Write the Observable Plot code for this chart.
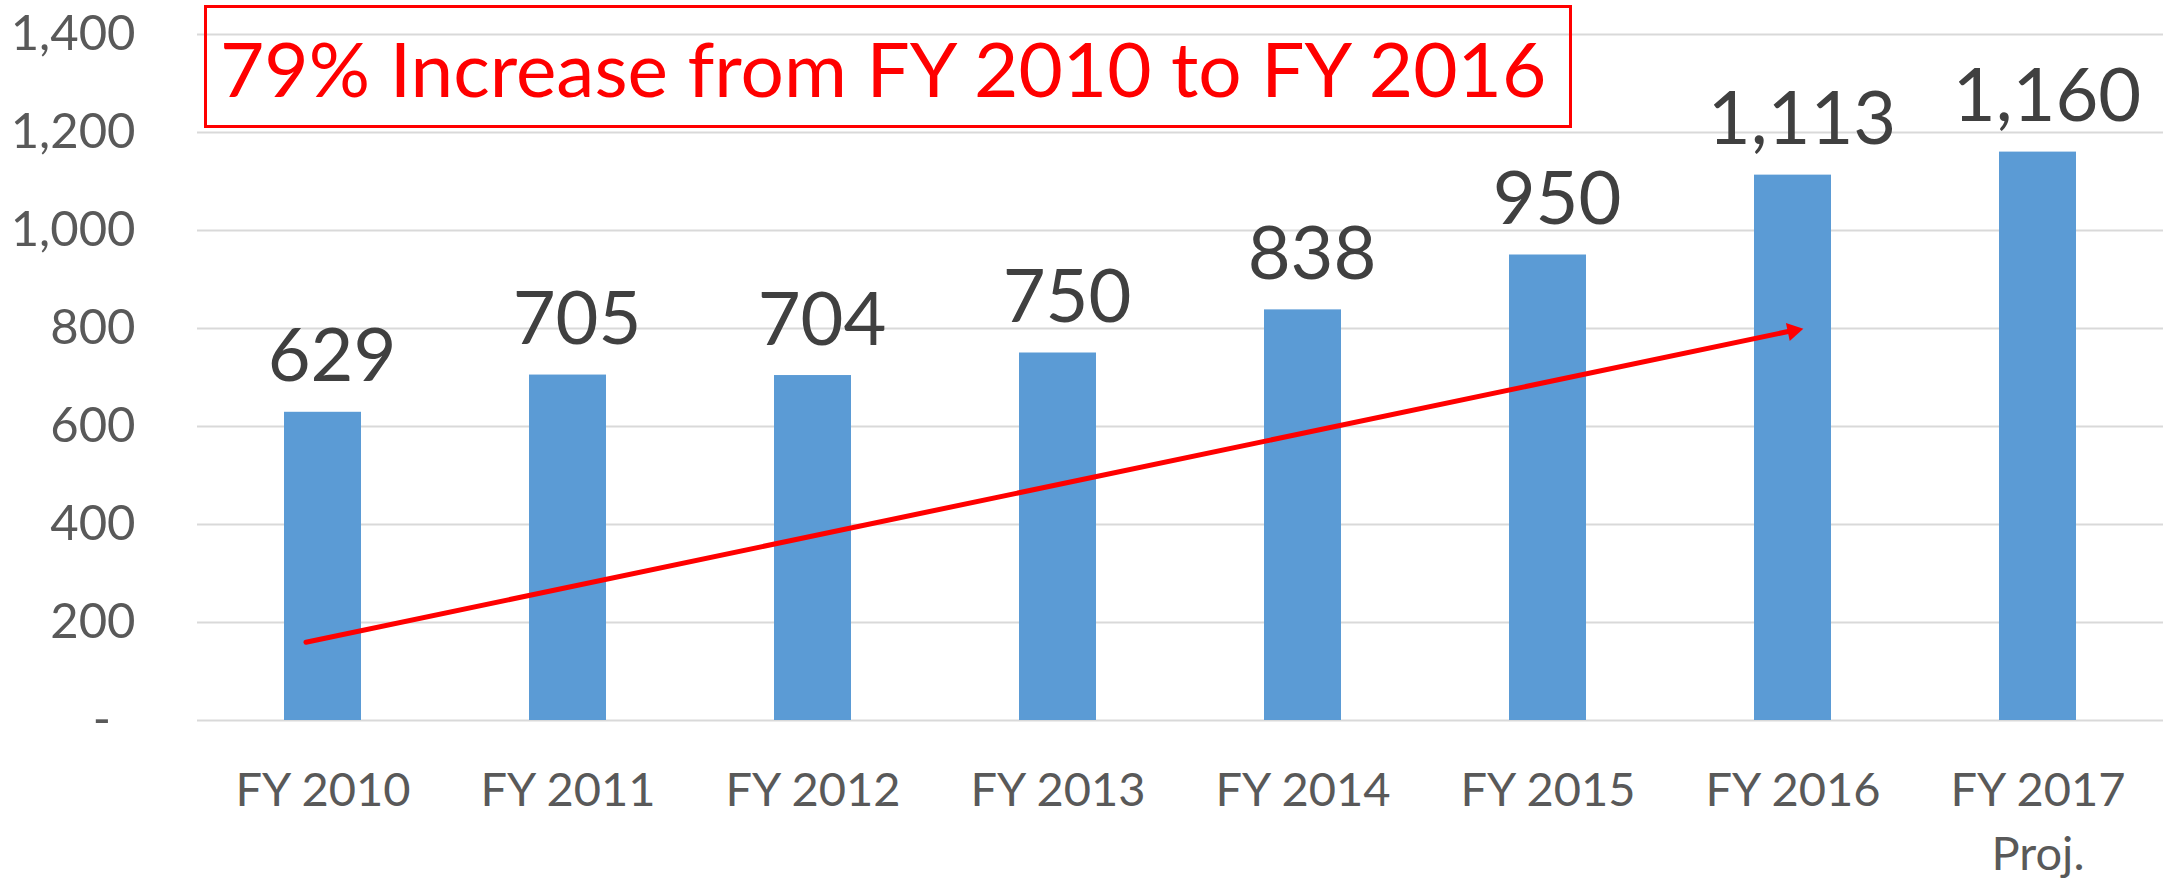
<!DOCTYPE html>
<html><head><meta charset="utf-8">
<script src="https://cdn.jsdelivr.net/npm/d3@7"></script>
<script src="https://cdn.jsdelivr.net/npm/@observablehq/plot@0.6"></script>
<style>
body{margin:0;background:#fff;}
#wrap{position:relative;width:2165px;height:879px;}
#callout{position:absolute;left:204px;top:5px;width:1368px;height:123px;box-sizing:border-box;border:3px solid #ff0000;display:flex;align-items:center;padding-left:13px;font-family:Lato;font-size:76.5px;color:#ff0000;white-space:nowrap;}
</style></head><body>
<div id="wrap"><div id="callout"></div></div>
<script>
const categories = ["FY 2010","FY 2011","FY 2012","FY 2013","FY 2014","FY 2015","FY 2016","FY 2017"];
const values = [629, 705, 704, 750, 838, 950, 1113, 1160];
const tickLabels = ["FY 2010","FY 2011","FY 2012","FY 2013","FY 2014","FY 2015","FY 2016","FY 2017\nProj."];
const yTicks = [0, 200, 400, 600, 800, 1000, 1200, 1400];
const calloutText = "79% Increase from FY 2010 to FY 2016";
const arrowStart = {category: "FY 2010", value: 167};
const arrowEnd = {category: "FY 2016", value: 796};
const arrowHead = {category: "FY 2016", value: 795};

const data = categories.map((c, i) => ({category: c, value: values[i]}));
const fmt = d3.format(",");
document.getElementById("callout").textContent = calloutText;

const chart = Plot.plot({
  width: 2165, height: 879,
  marginLeft: 197, marginRight: 2, marginTop: 34, marginBottom: 159,
  style: {fontFamily: "Lato", fontSize: "47px", color: "#595959", background: "#fff"},
  x: {domain: categories, paddingInner: 0.687, paddingOuter: 0.3435},
  y: {domain: [0, 1400]},
  marks: [
    Plot.gridY({ticks: yTicks, stroke: "#d9d9d9", strokeOpacity: 1, strokeWidth: 2}),
    Plot.barY(data, {x: "category", y: "value", fill: "#5b9bd5"}),
    Plot.axisY({ticks: yTicks, tickSize: 0, tickPadding: 62, label: null, fontSize: 49,
      tickFormat: d => d === 0 ? "-\u2002" : fmt(d)}),
    Plot.axisX({tickSize: 0, tickPadding: 39, label: null, lineHeight: 1.38, fontSize: 47,
      tickFormat: d => tickLabels[categories.indexOf(d)]}),
    Plot.text(data, {x: "category", y: "value", text: d => fmt(d.value), lineAnchor: "bottom",
      dy: -31, dx: 9, fontSize: 74, fill: "#404040"}),
    Plot.arrow([{a: arrowStart, b: arrowEnd}], {
      x1: d => d.a.category, y1: d => d.a.value, x2: d => d.b.category, y2: d => d.b.value,
      stroke: "#ff0000", strokeWidth: 5, headLength: 0, insetStart: -17.4, insetEnd: 0}),
    Plot.dot([arrowHead], {x: "category", y: "value", symbol: "triangle", r: 6.8, rotate: 78,
      fill: "#ff0000", stroke: null})
  ]
});
document.getElementById("wrap").prepend(chart);
</script>
</body></html>
